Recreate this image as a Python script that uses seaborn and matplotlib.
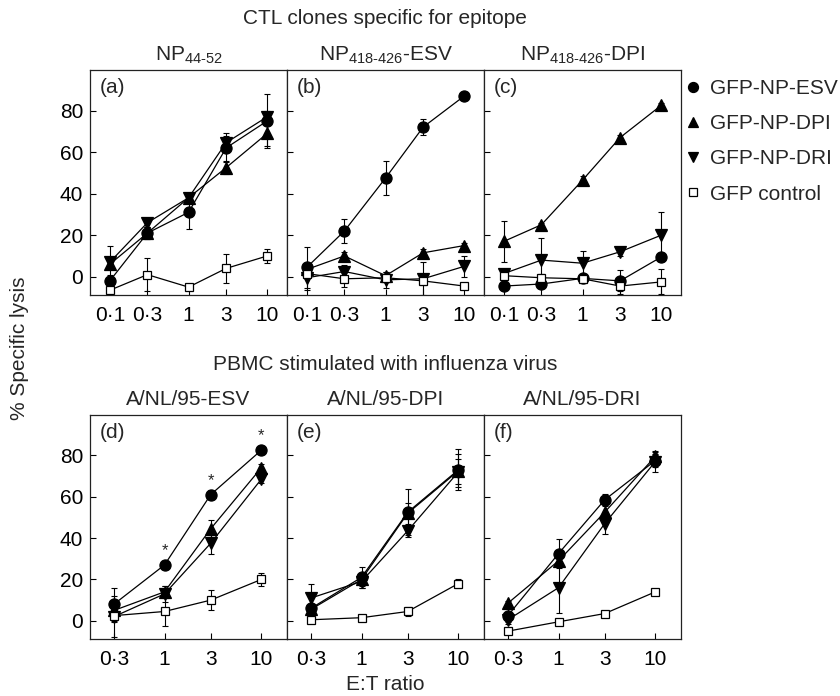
import numpy as np
import pandas as pd
import matplotlib
matplotlib.use("Agg")
import matplotlib.pyplot as plt
from matplotlib.lines import Line2D
import seaborn as sns

# E:T ratios
X_TOP = [0.1, 0.3, 1, 3, 10]
X_BOTTOM = [0.3, 1, 3, 10]
X_TOP_LABELS = ['0\u00b71', '0\u00b73', '1', '3', '10']
X_BOTTOM_LABELS = ['0\u00b73', '1', '3', '10']

SERIES = ['GFP-NP-ESV', 'GFP-NP-DPI', 'GFP-NP-DRI', 'GFP control']

# % specific lysis, rows = ESV, DPI, DRI, GFP control
a_vals = [[-2, 21, 31, 62, 75], [6, 21, 38, 52.5, 69], [7, 26, 38, 64.5, 77], [-6.5, 1, -5, 4, 10]]
a_errs = [[3, 3, 8, 7, 13], [2, 3, 2, 3, 6], [8, 2, 2, 3, 3], [1, 8, 1, 7, 3.5]]
b_vals = [[4.5, 22, 47.5, 72, 87], [3.5, 10, 0.5, 11.5, 15], [-0.5, 2.5, -1.5, -1, 5], [1.5, -1, -0.5, -2, -4.5]]
b_errs = [[10, 6, 8, 4, 1], [2, 2, 2, 2, 1], [6, 3, 4, 8, 5], [2, 4, 2, 2, 1]]
c_vals = [[-4.5, -3.5, -0.8, -2, 9.5], [17, 25, 46.5, 67, 82.5], [1.5, 8, 6.5, 12, 20], [0.5, -0.5, -1, -4.5, -2.5]]
c_errs = [[1, 1, 1, 5, 2], [10, 1, 2, 1, 1], [2, 10.5, 6, 2, 11], [2, 2, 2, 4, 6]]

d_vals = [[8, 27, 61, 82.5], [5, 14, 44.5, 74], [2, 13, 37.5, 68.5], [2.5, 4.5, 10, 20]]
d_errs = [[8, 2, 2, 1], [3, 3, 4, 2], [10, 4, 5, 2], [3, 7, 5, 3]]
e_vals = [[6, 21, 52.5, 73], [5.5, 20, 52, 72.5], [11, 19, 43.5, 72], [0.5, 1.5, 4.5, 18]]
e_errs = [[2, 5, 11, 10], [2, 3, 5, 8], [7, 3, 3, 6], [1, 1, 2, 2]]
f_vals = [[2.5, 32.5, 58.5, 77.5], [8.5, 29, 52.5, 79.5], [0.5, 16, 47, 77], [-5, -0.5, 3.5, 14]]
f_errs = [[3, 7, 3, 3], [1, 2, 4, 2], [2, 12, 5, 5], [1, 1, 1, 1]]

TOP_TITLES = [r'NP$_{\text{44-52}}$', r'NP$_{\text{418-426}}$-ESV', r'NP$_{\text{418-426}}$-DPI']
BOTTOM_TITLES = ['A/NL/95-ESV', 'A/NL/95-DPI', 'A/NL/95-DRI']
PANEL_TAGS = ['(a)', '(b)', '(c)', '(d)', '(e)', '(f)']
STAR_X = [1, 3, 10]

MARKERS = ['o', '^', 'v', 's']
FACES = ['black', 'black', 'black', 'white']
SIZES = [8, 8, 8, 6]

sns.set_style('ticks')
plt.rcParams['font.family'] = ['Liberation Sans', 'DejaVu Sans']
plt.rcParams['mathtext.fontset'] = 'custom'
plt.rcParams['mathtext.rm'] = 'Liberation Sans'
plt.rcParams['mathtext.it'] = 'Liberation Sans:italic'
plt.rcParams['mathtext.bf'] = 'Liberation Sans:bold'

FS = 15
W, H = 840, 696
fig, axes = plt.subplots(2, 3, figsize=(W / 100, H / 100), dpi=100)


def draw_panel(ax, x, vals, errs):
    for name, v, e, m, fc, ms in zip(SERIES, vals, errs, MARKERS, FACES, SIZES):
        df = pd.DataFrame({'ratio': x, 'lysis': v})
        ax.errorbar(x, v, yerr=e, fmt='none', ecolor='black', elinewidth=0.8,
                    capsize=2, capthick=0.8, zorder=2)
        sns.lineplot(data=df, x='ratio', y='lysis', ax=ax, color='black', marker=m,
                     markersize=ms, markerfacecolor=fc, markeredgecolor='black',
                     markeredgewidth=0.9, linewidth=0.9, legend=False, zorder=3)


rows = [(X_TOP, X_TOP_LABELS, [a_vals, b_vals, c_vals], [a_errs, b_errs, c_errs], TOP_TITLES),
        (X_BOTTOM, X_BOTTOM_LABELS, [d_vals, e_vals, f_vals], [d_errs, e_errs, f_errs], BOTTOM_TITLES)]

row_tops = [70, 415]
row_bottoms = [295, 639]
xlims = [(0.056, 17.8), (0.17, 18.4)]

for r, (x, xlabels, vals_list, errs_list, titles) in enumerate(rows):
    for c in range(3):
        ax = axes[r, c]
        left = 90 + 197 * c
        ax.set_position([left / W, 1 - row_bottoms[r] / H, 197 / W,
                         (row_bottoms[r] - row_tops[r]) / H])
        draw_panel(ax, x, vals_list[c], errs_list[c])
        ax.set_xscale('log')
        ax.set_xlim(*xlims[r])
        ax.set_ylim(-8.8, 99.5)
        ax.set_xticks(x)
        ax.set_xticklabels(xlabels)
        ax.minorticks_off()
        ax.set_yticks([0, 20, 40, 60, 80])
        if c > 0:
            ax.set_yticklabels([])
        ax.set_xlabel('')
        ax.set_ylabel('')
        ax.tick_params(direction='in', length=4, width=0.8, labelsize=FS, colors='black')
        ax.tick_params(axis='x', pad=8)
        ax.tick_params(axis='y', pad=5)
        for sp in ax.spines.values():
            sp.set_visible(True)
            sp.set_linewidth(0.9)
            sp.set_color('#222222')
        ax.set_title(titles[c], fontsize=FS, pad=7)
        ax.text(0.05, 0.965, PANEL_TAGS[r * 3 + c], transform=ax.transAxes,
                fontsize=FS, ha='left', va='top')

# significance stars in (d)
ax_d = axes[1, 0]
for sx in STAR_X:
    sy = d_vals[0][X_BOTTOM.index(sx)]
    ax_d.annotate('*', xy=(sx, sy), xytext=(0, 5), textcoords='offset points',
                  ha='center', va='bottom', fontsize=12)

fig.text(385 / W, 1 - 18 / H, 'CTL clones specific for epitope', ha='center',
         va='center', fontsize=FS)
fig.text(385 / W, 1 - 365 / H, 'PBMC stimulated with influenza virus', ha='center',
         va='center', fontsize=FS)
fig.text(20 / W, 1 - 348 / H, '% Specific lysis', rotation=90, ha='center',
         va='center', fontsize=FS)
fig.text(385 / W, 1 - 684 / H, 'E:T ratio', ha='center', va='center', fontsize=FS)

handles = [Line2D([], [], linestyle='none', marker=m, color='black', markerfacecolor=fc,
                  markeredgecolor='black', markersize=ms * 0.9, markeredgewidth=0.9)
           for m, fc, ms in zip(MARKERS, FACES, SIZES)]
fig.legend(handles, SERIES, loc='upper left', bbox_to_anchor=(686 / W, 1 - 79 / H),
           frameon=False, fontsize=FS, handlelength=0.7, handletextpad=0.45,
           labelspacing=0.78, borderpad=0, borderaxespad=0)

fig.savefig('out.png', dpi=100, facecolor='white')
